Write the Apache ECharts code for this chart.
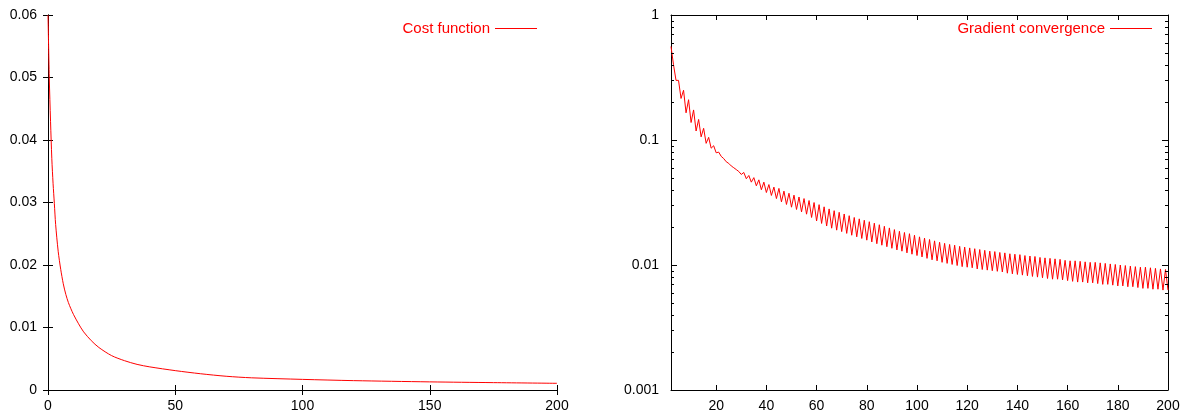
<!DOCTYPE html>
<html>
<head>
<meta charset="utf-8">
<script src="https://cdn.jsdelivr.net/npm/echarts@6/dist/echarts.min.js"></script>
<style>
html,body{margin:0;padding:0;background:#fff;}
#chart{width:1196px;height:414px;}
</style>
</head>
<body>
<div id="chart"></div>
<script>
// ---- Left chart: cost function (iteration vs cost) ----
const costX = [0, 0.5, 1, 1.5, 2, 2.5, 3, 4, 5, 6, 7, 8, 9, 10, 12, 14, 17, 20, 25, 30, 35, 40, 50, 60, 70, 80, 100, 120, 150, 175, 200];
const costY = [0.060, 0.050, 0.043, 0.037, 0.033, 0.0298, 0.0265, 0.0222, 0.0193, 0.0170, 0.0153, 0.0140, 0.0130, 0.0121, 0.0106, 0.0093, 0.0079, 0.0068, 0.0055, 0.0047, 0.0041, 0.0037, 0.0031, 0.0026, 0.0022, 0.00195, 0.0017, 0.0015, 0.0013, 0.00118, 0.00107];

// ---- Right chart: gradient convergence (zig-zag every iteration) ----
// values at even iterations 2,4,...,200
const gradEven = [0.56, 0.30, 0.215, 0.165, 0.138, 0.118, 0.106, 0.094, 0.086, 0.079,
  0.074, 0.067, 0.062, 0.058, 0.053, 0.049, 0.046, 0.043, 0.040, 0.038,
  0.036, 0.034, 0.032, 0.0305, 0.029, 0.0278, 0.0266, 0.0255, 0.0240, 0.0225,
  0.0215, 0.0205, 0.0197, 0.0190, 0.0185, 0.0179, 0.0173, 0.0168, 0.0163, 0.0158,
  0.0153, 0.0148, 0.0144, 0.0140, 0.0136, 0.0132, 0.0129, 0.0125, 0.0122, 0.0119,
  0.0116, 0.0113, 0.0110, 0.0108, 0.0105, 0.0103, 0.0101, 0.0099, 0.0097, 0.0096,
  0.0095, 0.0093, 0.0092, 0.0091, 0.0090, 0.0089, 0.0088, 0.0086, 0.0085, 0.0084,
  0.0083, 0.0082, 0.0081, 0.0080, 0.0079, 0.0078, 0.0077, 0.0077, 0.0076, 0.0075,
  0.0074, 0.0073, 0.0073, 0.0072, 0.0072, 0.0071, 0.0070, 0.0070, 0.0069, 0.0068,
  0.0068, 0.0067, 0.0067, 0.0066, 0.0065, 0.0065, 0.0064, 0.0064, 0.0063, 0.0063];
// values at odd iterations 3,5,...,199
const gradOdd = [0.40, 0.30, 0.25, 0.21, 0.174, 0.146, 0.124, 0.105, 0.090, 0.080,
  0.071, 0.065, 0.060, 0.056, 0.055, 0.052, 0.050, 0.048, 0.046, 0.044,
  0.042, 0.041, 0.039, 0.0375, 0.0362, 0.0350, 0.0340, 0.0328, 0.0316, 0.0304,
  0.0292, 0.0281, 0.0272, 0.0264, 0.0256, 0.0248, 0.0240, 0.0234, 0.0228, 0.0222,
  0.0216, 0.0210, 0.0204, 0.0198, 0.0192, 0.0186, 0.0182, 0.0178, 0.0173, 0.0168,
  0.0164, 0.0160, 0.0156, 0.0152, 0.0149, 0.0146, 0.0144, 0.0141, 0.0139, 0.0137,
  0.0135, 0.0133, 0.0131, 0.0129, 0.0128, 0.0126, 0.0125, 0.0123, 0.0122, 0.0121,
  0.0119, 0.0118, 0.0117, 0.0115, 0.0114, 0.0113, 0.0112, 0.0111, 0.0109, 0.0108,
  0.0108, 0.0107, 0.0106, 0.0105, 0.0105, 0.0104, 0.0103, 0.0102, 0.0101, 0.0100,
  0.0099, 0.0098, 0.0097, 0.0096, 0.0096, 0.0095, 0.0094, 0.0093, 0.0092];

const leftXTicks = [0, 50, 100, 150, 200];
const rightXTicks = [20, 40, 60, 80, 100, 120, 140, 160, 180, 200];
const logMinorTicks = [0.002, 0.003, 0.004, 0.005, 0.006, 0.007, 0.008, 0.009,
  0.02, 0.03, 0.04, 0.05, 0.06, 0.07, 0.08, 0.09,
  0.2, 0.3, 0.4, 0.5, 0.6, 0.7, 0.8, 0.9];

const costData = costX.map((x, i) => [x, costY[i]]);
const gradData = [];
for (let i = 0; i < gradEven.length; i++) {
  gradData.push([2 + 2 * i, gradEven[i]]);
  if (i < gradOdd.length) gradData.push([3 + 2 * i, gradOdd[i]]);
}

const FONT = 'Liberation Sans, Arial, sans-serif';
const RED = '#ff0000';
const axLine = { show: true, lineStyle: { color: '#000', width: 1 } };
const lab = { color: '#000', fontSize: 14, fontFamily: FONT };
const legendCommon = { top: 21, padding: 0, align: 'right', icon: 'rect',
  itemWidth: 42, itemHeight: 1, itemStyle: { color: RED },
  textStyle: { color: RED, fontSize: 15, fontFamily: FONT } };

const chart = echarts.init(document.getElementById('chart'), null, { renderer: 'canvas' });
chart.setOption({
  animation: false,
  backgroundColor: '#fff',
  grid: [
    { left: 48, right: 639, top: 15, bottom: 24 },
    { left: 671, right: 28, top: 15, bottom: 24 }
  ],
  legend: [
    Object.assign({ data: ['Cost function'], right: 659 }, legendCommon),
    Object.assign({ data: ['Gradient convergence'], right: 44 }, legendCommon)
  ],
  xAxis: [
    { gridIndex: 0, type: 'value', position: 'bottom', min: leftXTicks[0], max: leftXTicks[leftXTicks.length - 1], interval: 50,
      axisLine: axLine, axisTick: { inside: true, length: 5, lineStyle: { color: '#000' } },
      axisLabel: Object.assign({ margin: 9 }, lab), splitLine: { show: false } },
    { gridIndex: 0, type: 'value', position: 'top', min: 0, max: 200, interval: 50,
      axisLine: axLine, axisTick: { inside: true, length: 5, lineStyle: { color: '#000' } },
      axisLabel: { show: false }, splitLine: { show: false } },
    { gridIndex: 1, type: 'value', position: 'bottom', min: 2, max: 200,
      axisLine: axLine, axisTick: { inside: true, length: 5, customValues: rightXTicks, lineStyle: { color: '#000' } },
      axisLabel: Object.assign({ margin: 9, customValues: rightXTicks }, lab), splitLine: { show: false } },
    { gridIndex: 1, type: 'value', position: 'top', min: 2, max: 200,
      axisLine: axLine, axisTick: { inside: true, length: 5, customValues: rightXTicks, lineStyle: { color: '#000' } },
      axisLabel: { show: false }, splitLine: { show: false } }
  ],
  yAxis: [
    { gridIndex: 0, type: 'value', position: 'left', min: 0, max: 0.06, interval: 0.01,
      axisLine: axLine, axisTick: { inside: true, length: 5, lineStyle: { color: '#000' } },
      axisLabel: Object.assign({ margin: 11 }, lab), splitLine: { show: false } },
    { gridIndex: 0, type: 'value', position: 'right', min: 0, max: 0.06, interval: 0.01,
      axisLine: axLine, axisTick: { inside: true, length: 5, lineStyle: { color: '#000' } },
      axisLabel: { show: false }, splitLine: { show: false } },
    { gridIndex: 1, type: 'log', logBase: 10, position: 'left', min: 0.001, max: 1,
      axisLine: axLine, axisTick: { inside: true, length: 6, lineStyle: { color: '#000' } },
      axisLabel: Object.assign({ margin: 12, formatter: v => String(+v.toPrecision(3)) }, lab), splitLine: { show: false } },
    { gridIndex: 1, type: 'log', logBase: 10, position: 'right', min: 0.001, max: 1,
      axisLine: axLine, axisTick: { inside: true, length: 6, lineStyle: { color: '#000' } },
      axisLabel: { show: false }, splitLine: { show: false } }
  ],
  series: [
    { name: 'Cost function', type: 'line', xAxisIndex: 0, yAxisIndex: 0, data: costData,
      symbol: 'none', smooth: 0.3, color: RED, lineStyle: { color: RED, width: 1 } },
    { name: 'Gradient convergence', type: 'line', xAxisIndex: 2, yAxisIndex: 2, data: gradData,
      symbol: 'none', color: RED, lineStyle: { color: RED, width: 1 } },
    { type: 'custom', xAxisIndex: 2, yAxisIndex: 2, silent: true, clip: false, z: 5,
      data: logMinorTicks.map(v => [2, v]),
      renderItem: function (params, api) {
        const p = api.coord([api.value(0), api.value(1)]);
        const cs = params.coordSys;
        const y = Math.round(p[1]) + 0.5;
        const l = cs.x, r = cs.x + cs.width;
        return { type: 'group', children: [
          { type: 'line', shape: { x1: l, y1: y, x2: l + 3, y2: y }, style: { stroke: '#000', lineWidth: 1 } },
          { type: 'line', shape: { x1: r - 3, y1: y, x2: r, y2: y }, style: { stroke: '#000', lineWidth: 1 } }
        ] };
      } }
  ]
});
</script>
</body>
</html>
